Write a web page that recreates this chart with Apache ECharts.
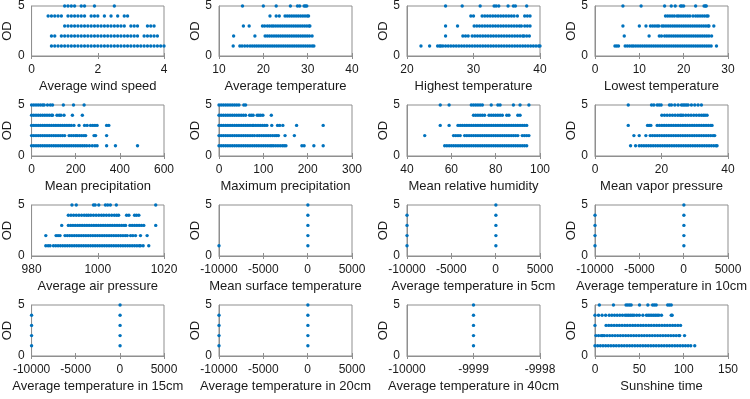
<!DOCTYPE html>
<html><head><meta charset="utf-8">
<script src="https://cdn.jsdelivr.net/npm/echarts@6/dist/echarts.min.js"></script>
<style>html,body{margin:0;padding:0;background:#fff}#c{width:750px;height:399px}</style>
</head><body><div id="c"></div>
<script>
const titles = ["Average wind speed","Average temperature","Highest temperature","Lowest temperature",
  "Mean precipitation","Maximum precipitation","Mean relative humidity","Mean vapor pressure",
  "Average air pressure","Mean surface temperature","Average temperature in 5cm","Average temperature in 10cm",
  "Average temperature in 15cm","Average temperature in 20cm","Average temperature in 40cm","Sunshine time"];
const xMin = [0,10,20,0, 0,0,40,0, 980,-10000,-10000,-10000, -10000,-10000,-10000,0];
const xMax = [4,40,40,30, 600,300,100,40, 1020,5000,5000,5000, 5000,5000,-9998,150];
const xStep = [2,10,10,10, 200,100,20,20, 20,5000,5000,5000, 5000,5000,1,50];
const odLevels = [1,2,3,4,5];
const yMin = 0, yMax = 5, yStep = 5;

// each panel: x values of the points on OD = 1, 2, 3, 4, 5
const windSpeed = [
  [0.6,0.7,0.8,0.9,1.0,1.1,1.2,1.3,1.4,1.5,1.6,1.7,1.8,1.9,2.0,2.1,2.2,2.3,2.4,2.5,2.6,2.7,2.8,2.9,3.0,3.1,3.2,3.3,3.4,3.5,3.6,3.7,3.8,3.9,4.0],
  [0.6,0.7,0.9,1.0,1.1,1.2,1.3,1.4,1.5,1.6,1.7,1.8,1.9,2.0,2.1,2.2,2.3,2.4,2.5,2.6,2.7,2.8,2.9,3.0,3.1,3.2,3.4,3.5,3.6,3.7,3.8],
  [1.0,1.1,1.2,1.3,1.4,1.5,1.6,1.7,1.8,1.9,2.0,2.1,2.2,2.3,2.4,2.5,2.6,2.7,2.8,3.0,3.1,3.2,3.5,3.6,3.7],
  [0.5,0.6,0.7,0.8,0.9,1.1,1.2,1.3,1.4,1.5,1.6,1.8,1.9,2.0,2.2,2.4,2.6,2.8,2.9],
  [1.0,1.1,1.2,1.3,1.5,1.6,1.9,2.5]
];
const avgTemp = [
  [13.2,14.7,15.2,15.8,16.4,17.0,17.5,18.0,18.5,19.0,19.5,20.0,20.5,21.0,21.5,22.0,22.5,23.0,23.5,24.0,24.5,25.0,25.5,26.0,26.5,27.0,27.5,28.0,28.5,29.0,29.5,30.0,30.5,31.0,31.4],
  [13.3,18.1,20.4,20.9,21.4,21.9,22.4,22.9,23.4,23.9,24.4,24.9,25.4,25.9,26.4,26.9,27.4,27.9,28.4,28.9,29.4,29.9,30.4,31.0],
  [15.5,16.8,19.8,20.3,20.9,21.4,21.9,22.3,22.8,23.3,23.8,24.3,24.8,25.3,25.8,26.3,26.8,27.3,27.8,28.3,28.8,29.3,29.8,30.3,30.5],
  [21.5,22.9,23.6,24.9,25.4,25.9,26.4,26.9,27.4,27.9,28.4,28.9,29.4,29.9,30.2],
  [15.3,20.0,22.9,26.1,27.7,28.2,29.2,29.5,29.8]
];
const highTemp = [
  [22.1,23.4,24.6,24.9,25.1,25.4,25.8,26.2,26.6,27.0,27.4,27.8,28.2,28.6,29.0,29.4,29.8,30.2,30.6,31.0,31.4,31.8,32.2,32.6,33.0,33.4,33.8,34.2,34.6,35.0,35.4,35.8,36.2,36.6,37.0,37.4,37.8,38.2,38.6,39.0,39.4,39.8,40.0],
  [25.8,28.4,28.8,29.2,29.8,30.2,30.6,31.0,31.4,31.8,32.2,32.6,33.0,33.4,33.8,34.2,34.6,35.0,35.4,35.8,36.2,36.6,37.0,37.4,37.6,38.0,38.4],
  [25.8,27.6,30.1,30.5,30.9,31.3,31.7,32.1,32.5,32.9,33.3,33.7,34.1,34.5,34.9,35.3,35.7,36.1,36.5,36.9,37.2,37.7,38.1,38.5],
  [29.6,30.0,31.3,31.7,32.1,32.5,32.9,33.3,33.7,34.1,34.5,34.9,35.3,35.7,36.1,36.6,37.7,38.1,38.5],
  [25.8,28.3,31.0,33.1,33.4,33.8,35.2,36.0,36.3,38.0]
];
const lowTemp = [
  [4.5,4.9,5.3,6.8,7.3,7.8,8.3,8.7,9.2,9.7,10.2,10.7,11.2,11.7,12.2,12.7,13.2,13.7,14.2,14.7,15.2,15.7,16.2,16.7,17.2,17.7,18.2,18.7,19.2,19.7,20.2,20.7,21.2,21.7,22.2,22.7,23.2,23.7,24.2,24.7,25.2,25.7,26.2,27.4],
  [6.6,12.2,14.5,15.0,15.7,16.2,16.7,17.2,17.7,18.2,18.7,19.2,19.7,20.2,20.7,21.2,21.7,22.2,22.7,23.2,23.7,24.2,24.7,25.2,25.7,26.3],
  [6.3,10.0,11.5,12.5,13.0,13.5,14.0,14.4,15.1,15.5,16.0,16.5,17.0,17.5,18.0,18.5,19.0,19.5,20.0,20.5,21.0,21.5,22.0,22.5,23.0,23.5,24.0,24.5,25.0,25.5,25.7,26.8],
  [15.9,16.4,16.9,17.4,17.9,18.5,18.9,19.4,19.9,20.4,20.9,21.4,22.1,22.7,23.2,23.7,24.2,24.7,25.2,25.5],
  [6.3,10.4,15.7,17.2,18.1,19.3,19.6,20.0,22.7,24.6,24.9,25.1]
];
const meanPrecip = [
  [0,10,20,30,40,50,60,70,80,90,100,110,120,130,140,150,160,170,180,190,200,210,220,230,240,250,262,275,287,297,340,380,480],
  [0,10,20,30,40,50,60,70,80,90,100,110,120,130,140,150,170,180,190,200,207,217,227,237,245,283,290,340],
  [0,10,20,30,40,50,60,70,80,90,100,110,120,130,140,150,160,170,180,192,215,240,252,267,277,287,297,340,350],
  [0,10,20,30,40,50,60,70,80,90,95,115,125,133,147,185,230],
  [0,10,20,30,40,50,57,72,85,95,144,190,238]
];
const maxPrecip = [
  [0,5,10,15,20,25,30,35,40,45,50,55,60,65,70,75,80,85,90,95,100,105,110,115,119,123,128,133,138,143,147,151,187,192,214,235],
  [0,5,10,15,20,25,30,35,40,45,50,55,60,65,70,75,80,86,91,96,101,106,111,116,121,126,130,134,149,170],
  [0,5,10,15,20,25,30,35,40,45,50,55,60,65,70,75,78,83,88,93,98,103,108,119,132,137,144,175,235],
  [0,5,10,15,20,25,30,35,40,45,50,55,60,69,73,77,86,90,94,99,118],
  [0,5,10,15,20,25,30,35,40,45,56,60]
];
const humidity = [
  [57,58,59,60,61,62,63,64,65,66,67,68,69,70,71,72,73,74,75,76,77,78,79,80,81,82,83,84,85,86,87,88,89,90,91,92,93,94],
  [48,61,62,63,64,66,67,68,69,70,71,72,73,74,75,76,77,78,79,80,81,82,83,84,85,86,87,88,89,90,92,93,94,95],
  [55,59,63,64,65,66,67,68,69,70,71,72,73,74,75,76,77,78,79,80,81,82,83,84,85,86,87,88,89,90,91,92,93,94],
  [70,71,72,73,74,75,77,78,79,80,81,82,83,85,86,90,91],
  [55,59,69,70,71,72,73,74,78,81,82,88,91,95]
];
const vaporPressure = [
  [10.7,12.2,13.3,14.0,14.7,15.4,16.1,16.8,17.5,18.2,18.9,19.6,20.3,21.0,21.7,22.4,23.1,23.8,24.5,25.2,25.9,26.6,27.3,28.0,28.7,29.4,30.1,30.8,31.5,32.2,32.9,33.6,34.3,35.0,35.7,36.4,36.7],
  [11.7,13.3,15.3,16.6,17.3,18.0,18.7,19.4,20.1,20.8,21.5,22.2,22.9,23.6,24.3,25.0,25.7,26.4,27.1,27.8,28.5,29.2,29.9,30.6,31.3,32.0,32.7,33.4,34.1,34.8,35.5,36.0],
  [10.0,15.8,16.3,16.8,18.7,19.4,20.1,20.8,21.5,22.2,22.9,23.6,24.3,25.0,25.7,26.4,27.1,27.8,28.5,29.2,29.9,30.6,31.3,32.0,32.7,33.4,34.1,34.8,35.2],
  [20.1,20.9,21.7,22.5,23.3,24.1,24.9,25.6,26.0,26.5,27.3,28.1,28.9,29.7,30.5,31.3,32.0,32.6,33.1,33.7],
  [10.0,17.0,17.7,18.7,19.3,19.9,22.4,23.0,24.0,25.0,26.0,26.5,27.0,27.5,28.0,29.0,30.0,31.0,32.0]
];
const airPressure = [
  [984.3,985.0,985.6,986.6,987.3,988.0,988.7,989.4,990.1,990.8,991.5,992.2,992.9,993.6,994.3,995.0,995.7,996.4,997.1,997.8,998.5,999.2,999.9,1000.6,1001.3,1002.0,1002.7,1003.4,1004.1,1004.8,1005.5,1006.2,1006.9,1007.6,1008.3,1009.0,1009.7,1010.4,1011.1,1011.8,1012.5,1012.9,1013.7,1015.4],
  [984.3,987.4,988.0,988.6,990.1,990.8,991.5,992.2,992.9,993.6,994.3,995.0,995.7,996.4,997.1,997.8,998.5,999.2,999.9,1000.6,1001.3,1002.0,1002.7,1003.4,1004.1,1004.8,1005.5,1006.2,1006.9,1007.6,1008.3,1008.9,1009.9,1010.6,1011.4,1012.9,1014.9],
  [989.1,991.1,991.8,992.5,993.2,993.9,994.6,995.3,996.0,996.7,997.4,998.1,998.8,999.5,1000.2,1000.9,1001.6,1002.3,1003.0,1003.7,1004.4,1005.1,1005.8,1006.5,1007.2,1007.9,1008.4,1009.7,1010.4,1011.1,1011.8,1012.5,1013.2,1013.9,1017.5],
  [991.1,991.9,992.7,993.5,994.3,995.1,995.9,996.6,997.2,997.9,998.7,999.5,1000.3,1001.1,1001.8,1002.6,1003.4,1004.2,1005.0,1005.7,1006.3,1008.7,1009.4,1011.1,1011.7,1012.4],
  [992.2,993.5,998.7,999.2,1000.3,1002.3,1003.0,1003.8,1005.6,1017.5]
];
const surfaceTemp = [[-9999,25],[25],[25],[25],[25]];
const temp5cm = [[-9999,25],[-9999,25],[-9999,25],[-9999,25],[25]];
const temp10cm = [[-9999,25],[-9999,25],[-9999,25],[-9999,25],[25]];
const temp15cm = [[-9999,25],[-9999,25],[-9999,25],[-9999,25],[25]];
const temp20cm = [[-9999,25],[-9999,25],[-9999,25],[-9999,25],[25]];
const temp40cm = [[-9999],[-9999],[-9999],[-9999],[-9999]];
const sunshine = [
  [0,3,6,9,12,15,18,21,24,27,30,33,36,39,42,45,48,51,54,57,60,63,66,69,72,75,78,81,84,87,90,93,96,99,102,105,108,112.5],
  [1,4,7,8.7,10.6,13.6,16.6,19.6,22.6,25.6,28.6,31.6,34.6,37.6,40.6,43.6,46.6,49.6,52.6,55.6,58.6,61.6,64.6,67.6,70.6,73.6,76.6,79.6,82.6,85.6,88.6,91.6,94.6,95.5,101],
  [0,12.5,15.5,18.5,21.5,24.5,27.5,30.5,33.5,36.5,39.5,42.5,45.5,48.5,51.5,54.5,57.5,60.5,63.5,66.5,69.5,72.5,75.5,78.5,81.5,84.5,87.5,90.5,93.5,96.5],
  [0,4,8,12,16,19,22,25,28,31,34,36,38,40,42,44,47,50,54,58,60,62,64,66,68,70,72,75,86,87],
  [4.9,20.8,35,37,39,40.8,50.2,59.6,65,67,69,82,84,86]
];

const panels = [windSpeed, avgTemp, highTemp, lowTemp, meanPrecip, maxPrecip, humidity, vaporPressure,
  airPressure, surfaceTemp, temp5cm, temp10cm, temp15cm, temp20cm, temp40cm, sunshine];

const chart = echarts.init(document.getElementById('c'), null, {renderer: 'canvas'});
const GRAY = '#8f8f8f', TXT = '#1a1a1a', FONT = '"Liberation Sans", Arial, sans-serif', DOT = '#0072BD';
const grids = [], xAxes = [], yAxes = [], series = [];
panels.forEach((p, i) => {
  const r = Math.floor(i / 4), c = i % 4;
  grids.push({left: 31 + 188 * c, top: 5 + 100 * r, width: 133, height: 51, show: true,
    borderColor: GRAY, borderWidth: 1, backgroundColor: 'transparent', containLabel: false});
  const common = {type: 'value', gridIndex: i, min: xMin[i], max: xMax[i], interval: xStep[i], splitLine: {show: false}};
  xAxes.push(Object.assign({}, common, {position: 'bottom', name: titles[i], nameLocation: 'middle', nameGap: 24,
    nameTextStyle: {color: TXT, fontSize: 13, fontFamily: FONT},
    axisLine: {onZero: false, lineStyle: {color: GRAY}},
    axisTick: {inside: true, length: 3, lineStyle: {color: GRAY}},
    axisLabel: {color: TXT, fontSize: 12, fontFamily: FONT, margin: 8, formatter: v => String(v)}}));
  xAxes.push(Object.assign({}, common, {position: 'top', axisLine: {show: false},
    axisTick: {inside: true, length: 3, lineStyle: {color: GRAY}}, axisLabel: {show: false}}));
  yAxes.push({type: 'value', gridIndex: i, min: yMin, max: yMax, interval: yStep, name: 'OD', nameLocation: 'middle', nameGap: 17,
    nameTextStyle: {color: TXT, fontSize: 13, fontFamily: FONT},
    axisLine: {onZero: false, lineStyle: {color: GRAY}}, axisTick: {show: false}, splitLine: {show: false},
    axisLabel: {color: TXT, fontSize: 12, fontFamily: FONT, margin: 7, formatter: v => String(v)}});
  const data = [];
  p.forEach((xs, k) => xs.forEach(x => data.push([x, odLevels[k]])));
  series.push({type: 'scatter', xAxisIndex: 2 * i, yAxisIndex: i, data: data, symbolSize: 3.4,
    itemStyle: {color: DOT, opacity: 1}, silent: true});
});
chart.setOption({animation: false, backgroundColor: '#fff', grid: grids, xAxis: xAxes, yAxis: yAxes, series: series});
</script></body></html>
